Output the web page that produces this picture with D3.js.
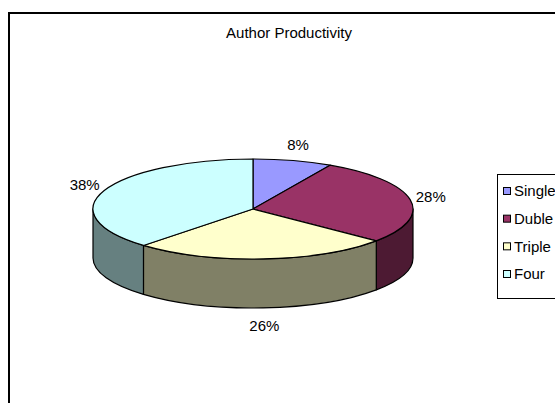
<!DOCTYPE html>
<html>
<head>
<meta charset="utf-8">
<script src="https://cdn.jsdelivr.net/npm/d3@7"></script>
<style>
  html, body { margin: 0; padding: 0; background: #fff; }
  svg { display: block; }
  text { font-family: "Liberation Sans", Arial, sans-serif; fill: #000; }
</style>
</head>
<body>
<svg id="chart" width="555" height="403"></svg>
<script>
// Author productivity by number of authors
const categories = ["Single", "Duble", "Triple", "Four"];
const shares = [8, 28, 26, 38];
const topColors = ["#9999FF", "#993366", "#FFFFCC", "#CCFFFF"];
const title = "Author Productivity";

const svg = d3.select("#chart");

// chart frame (runs past the right and bottom edges)
svg.append("rect")
  .attr("x", 9).attr("y", 13)
  .attr("width", 600).attr("height", 500)
  .attr("fill", "#fff").attr("stroke", "#000").attr("stroke-width", 2);

svg.append("text")
  .attr("x", 289).attr("y", 38)
  .attr("text-anchor", "middle")
  .style("font-size", "15px")
  .text(title);

// 3-D pie geometry
const cx = 253, cy = 209, rx = 160, ry = 50, depth = 49;
const pie = d3.pie().sort(null).value(d => d)
  .startAngle(0).endAngle(2 * Math.PI);
const arcs = pie(shares);

const pt = (a, dy = 0) => [cx + rx * Math.sin(a), cy - ry * Math.cos(a) + dy];
const sideColor = c => { const k = d3.rgb(c); return d3.rgb(k.r * 0.5, k.g * 0.5, k.b * 0.5).toString(); };

// front walls: the part of each slice between 90° and 270°
const sides = svg.append("g");
arcs.forEach((d, i) => {
  const a0 = Math.max(d.startAngle, Math.PI / 2);
  const a1 = Math.min(d.endAngle, 3 * Math.PI / 2);
  if (a1 <= a0) return;
  const p0 = pt(a0), p1 = pt(a1), q1 = pt(a1, depth), q0 = pt(a0, depth);
  const large = (a1 - a0) > Math.PI ? 1 : 0;
  const path = `M${p0}A${rx},${ry} 0 ${large} 1 ${p1}L${q1}A${rx},${ry} 0 ${large} 0 ${q0}Z`;
  sides.append("path")
    .attr("d", path)
    .attr("fill", sideColor(topColors[i]))
    .attr("stroke", "#000").attr("stroke-width", 1.2)
    .attr("stroke-linejoin", "round");
});

// top face: circular arcs squashed to an ellipse
const arcGen = d3.arc().innerRadius(0).outerRadius(rx);
svg.append("g")
  .attr("transform", `translate(${cx},${cy}) scale(1,${ry / rx})`)
  .selectAll("path")
  .data(arcs)
  .join("path")
  .attr("d", arcGen)
  .attr("fill", (d, i) => topColors[i])
  .attr("stroke", "#000").attr("stroke-width", 1.2)
  .attr("vector-effect", "non-scaling-stroke")
  .attr("stroke-linejoin", "round");

// percentage labels outside each slice
const lx = rx + 21, ly = ry + 16;
svg.append("g")
  .selectAll("text")
  .data(arcs)
  .join("text")
  .attr("x", d => cx + lx * Math.sin((d.startAngle + d.endAngle) / 2))
  .attr("y", d => {
    const m = (d.startAngle + d.endAngle) / 2;
    return cy - ly * Math.cos(m) + (Math.cos(m) < 0 ? depth + 2 : 0);
  })
  .attr("dy", "0.35em")
  .attr("text-anchor", "middle")
  .style("font-size", "15px")
  .text(d => d.data + "%");

// legend
const lg = svg.append("g");
lg.append("rect")
  .attr("x", 497.5).attr("y", 174.5)
  .attr("width", 100).attr("height", 124)
  .attr("fill", "#fff").attr("stroke", "#000").attr("stroke-width", 1);
const rowY = d3.scalePoint().domain(categories).range([191, 274]);
const item = lg.selectAll("g.item")
  .data(categories)
  .join("g")
  .attr("class", "item")
  .attr("transform", d => `translate(0,${rowY(d)})`);
item.append("rect")
  .attr("x", 503.5).attr("y", -3.5)
  .attr("width", 7).attr("height", 7)
  .attr("fill", (d, i) => topColors[i])
  .attr("stroke", "#000").attr("stroke-width", 1);
item.append("text")
  .attr("x", 514).attr("y", 0)
  .attr("dy", "0.35em")
  .style("font-size", "15px")
  .text(d => d);
</script>
</body>
</html>
